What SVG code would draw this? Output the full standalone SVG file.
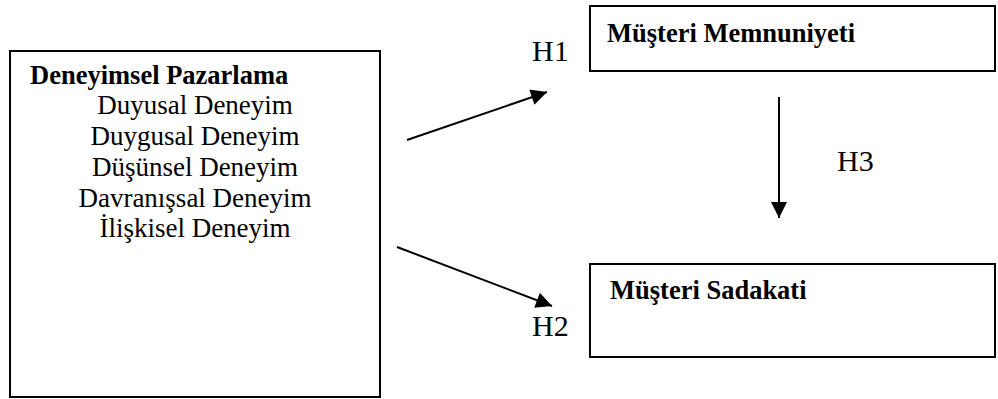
<svg xmlns="http://www.w3.org/2000/svg" width="998" height="399" viewBox="0 0 998 399">
<defs>
<style>
.box{fill:#fff;stroke:#000;stroke-width:2}
.t{font-family:"Liberation Serif","Times New Roman",serif;fill:#000}
.b{font-weight:bold;font-size:26.5px}
.r{font-size:27px}
.h{font-size:30px}
.c{stroke:#000;stroke-width:2;fill:none}
</style>
<marker id="ah" viewBox="0 0 10 10" refX="10" refY="5" markerWidth="9" markerHeight="8" markerUnits="strokeWidth" orient="auto">
<path d="M0,0L10,5L0,10z" fill="#000"/>
</marker>
</defs>
<rect width="998" height="399" fill="#fff"/>
<g id="deneyimsel-pazarlama">
<rect class="box" x="10" y="51" width="370" height="346"/>
<text class="t b" x="30" y="84">Deneyimsel Pazarlama</text>
<text class="t r" x="195" y="114" text-anchor="middle">Duyusal Deneyim</text>
<text class="t r" x="195" y="145" text-anchor="middle">Duygusal Deneyim</text>
<text class="t r" x="195" y="176" text-anchor="middle">Düşünsel Deneyim</text>
<text class="t r" x="195" y="207" text-anchor="middle">Davranışsal Deneyim</text>
<text class="t r" x="195" y="237" text-anchor="middle">İlişkisel Deneyim</text>
</g>
<g id="musteri-memnuniyeti">
<rect class="box" x="590" y="6" width="405" height="65"/>
<text class="t b" x="607" y="42">Müşteri Memnuniyeti</text>
</g>
<g id="musteri-sadakati">
<rect class="box" x="590" y="264" width="405" height="93"/>
<text class="t b" x="610" y="299">Müşteri Sadakati</text>
</g>
<g id="connectors">
<line class="c" x1="407" y1="140" x2="547" y2="92" marker-end="url(#ah)"/>
<line class="c" x1="397" y1="247" x2="552" y2="306" marker-end="url(#ah)"/>
<line class="c" x1="779" y1="97" x2="779" y2="218" marker-end="url(#ah)"/>
<text class="t h" x="532" y="61">H1</text>
<text class="t h" x="532" y="336">H2</text>
<text class="t h" x="837" y="171">H3</text>
</g>
</svg>
